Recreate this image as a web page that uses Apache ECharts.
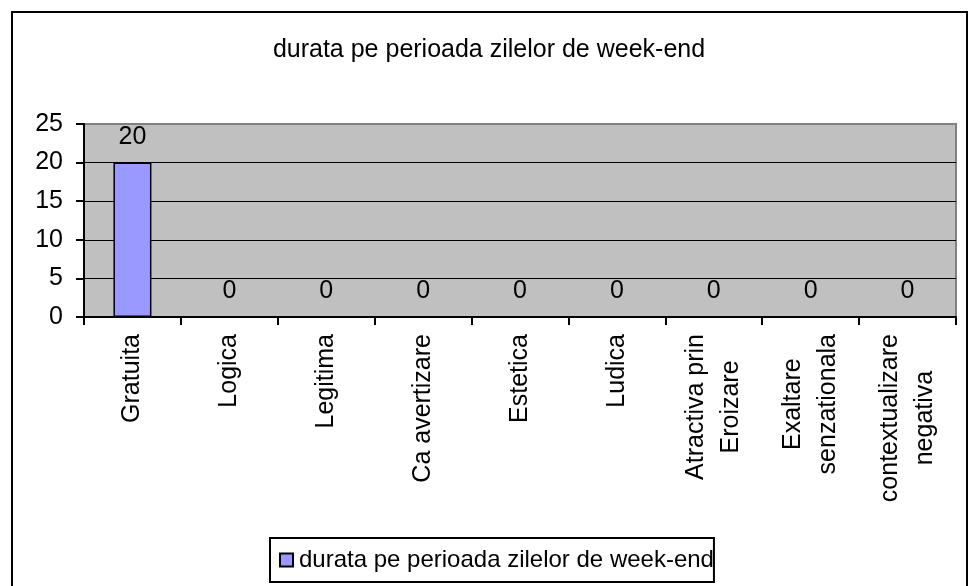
<!DOCTYPE html>
<html>
<head>
<meta charset="utf-8">
<script src="https://cdn.jsdelivr.net/npm/echarts@6/dist/echarts.min.js"></script>
<style>
    html, body { margin: 0; padding: 0; background: #fff; }
    #chart { width: 978px; height: 586px; }
</style>
</head>
<body>
<div id="chart"></div>
<script>
const titleText = 'durata pe perioada zilelor de week-end';
const seriesName = 'durata pe perioada zilelor de week-end';
const categories = ['Gratuita', 'Logica', 'Legitima', 'Ca avertizare', 'Estetica', 'Ludica',
    'Atractiva prin\nEroizare', 'Exaltare\nsenzationala', 'contextualizare\nnegativa'];
const values = [20, 0, 0, 0, 0, 0, 0, 0, 0];
const yTicks = [0, 5, 10, 15, 20, 25];

const font = '"Liberation Sans", Arial, sans-serif';
const chart = echarts.init(document.getElementById('chart'));

chart.setOption({
    animation: false,
    backgroundColor: '#ffffff',
    textStyle: { fontFamily: font },
    graphic: [{
        type: 'rect',
        shape: { x: 12, y: 12, width: 955, height: 640 },
        style: { fill: 'none', stroke: '#000', lineWidth: 2 },
        silent: true
    }],
    title: {
        text: titleText,
        left: 'center',
        top: 33,
        textStyle: { fontFamily: font, fontSize: 25, fontWeight: 'normal', color: '#000' }
    },
    legend: {
        data: [seriesName],
        left: 270,
        top: 538,
        icon: 'rect',
        itemWidth: 13,
        itemHeight: 13,
        padding: [10, 0, 10, 9],
        backgroundColor: '#fff',
        borderColor: '#000',
        borderWidth: 2,
        textStyle: { fontFamily: font, fontSize: 24, color: '#000', padding: [0, 0, 0, 1] }
    },
    grid: {
        left: 84,
        right: 22,
        top: 124,
        bottom: 269,
        show: true,
        backgroundColor: '#c0c0c0',
        borderColor: '#808080',
        borderWidth: 2
    },
    xAxis: {
        type: 'category',
        data: categories,
        axisLine: { lineStyle: { color: '#000', width: 2 } },
        axisTick: { show: true, length: 8, lineStyle: { color: '#000', width: 2 } },
        axisLabel: {
            rotate: 90,
            interval: 0,
            margin: 17,
            color: '#000',
            fontFamily: font,
            fontSize: 25,
            lineHeight: 35,
            formatter: v => v.split('\n').map(l => '{c|' + l + '}').join('\n'),
            rich: { c: { align: 'center', fontSize: 25, lineHeight: 35, fontFamily: font, color: '#000' } }
        }
    },
    yAxis: {
        type: 'value',
        min: yTicks[0],
        max: yTicks[yTicks.length - 1],
        interval: 5,
        axisLine: { show: true, lineStyle: { color: '#000', width: 2 } },
        axisTick: { show: true, length: 8, lineStyle: { color: '#000', width: 2 } },
        axisLabel: { margin: 21, color: '#000', fontFamily: font, fontSize: 25 },
        splitLine: { show: true, showMaxLine: false, lineStyle: { color: '#000', width: 1 } }
    },
    series: [{
        name: seriesName,
        type: 'bar',
        data: values,
        barWidth: 38,
        itemStyle: { color: '#9999ff', borderColor: '#000', borderWidth: 1.5 },
        label: {
            show: true,
            position: 'top',
            distance: 13,
            color: '#000',
            fontFamily: font,
            fontSize: 25
        }
    }]
});
</script>
</body>
</html>
